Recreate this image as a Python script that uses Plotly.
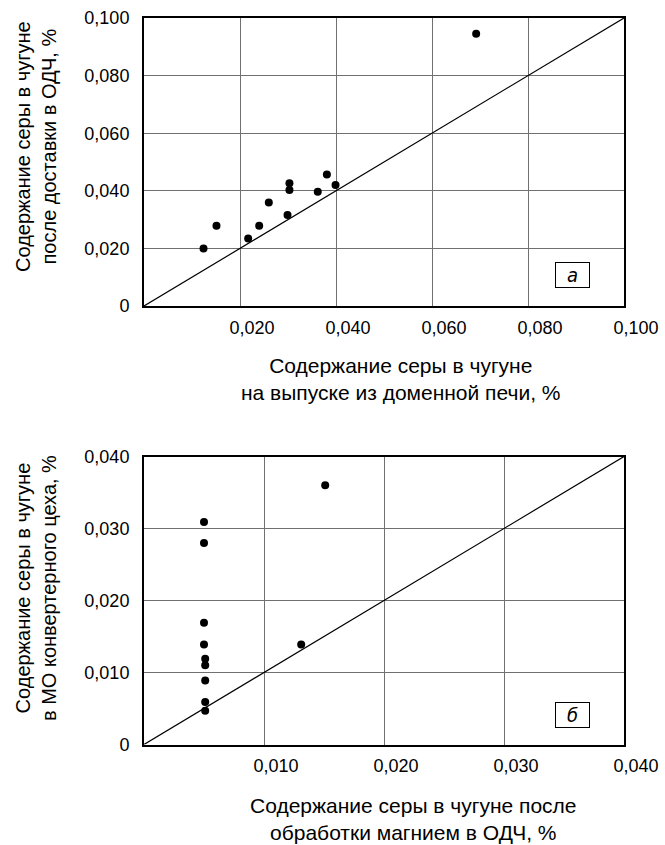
import plotly.graph_objects as go

# --- data: panel а ---
a_x = [0.0124, 0.0151, 0.0217, 0.0240, 0.0260, 0.0299, 0.0303, 0.0303, 0.0362, 0.0381, 0.0399, 0.0692]
a_y = [0.0200, 0.0279, 0.0234, 0.0279, 0.0359, 0.0316, 0.0403, 0.0426, 0.0397, 0.0457, 0.0420, 0.0945]
# --- data: panel б ---
b_x = [0.0050, 0.0050, 0.0050, 0.0050, 0.0051, 0.0051, 0.0051, 0.0051, 0.0051, 0.0131, 0.0151]
b_y = [0.0309, 0.0280, 0.0169, 0.0139, 0.0119, 0.0110, 0.0089, 0.0059, 0.0047, 0.0139, 0.0360]

a_ticks = [0, 0.02, 0.04, 0.06, 0.08, 0.10]
a_ticktext = ["0", "0,020", "0,040", "0,060", "0,080", "0,100"]
b_ticks = [0, 0.01, 0.02, 0.03, 0.04]
b_ticktext = ["0", "0,010", "0,020", "0,030", "0,040"]

a_range = [0, 0.10]
b_range = [0, 0.04]

W, H = 665, 845
FONT = "Liberation Sans, Arial, sans-serif"

fig = go.Figure()
# diagonal lines y = x
fig.add_trace(go.Scatter(x=a_range, y=a_range, mode="lines", line=dict(color="black", width=1.2),
                         xaxis="x", yaxis="y", hoverinfo="skip"))
fig.add_trace(go.Scatter(x=a_x, y=a_y, mode="markers", marker=dict(color="black", size=8),
                         xaxis="x", yaxis="y"))
fig.add_trace(go.Scatter(x=b_range, y=b_range, mode="lines", line=dict(color="black", width=1.2),
                         xaxis="x2", yaxis="y2", hoverinfo="skip"))
fig.add_trace(go.Scatter(x=b_x, y=b_y, mode="markers", marker=dict(color="black", size=8),
                         xaxis="x2", yaxis="y2"))

x0, x1 = 144 / W, 624 / W
ya = [1 - 306 / H, 1 - 18 / H]
yb = [1 - 744.5 / H, 1 - 456.5 / H]

common = dict(showline=True, mirror=True, linecolor="black", linewidth=2,
              showgrid=True, gridcolor="#707070", gridwidth=1, zeroline=False,
              automargin=False,
              ticks="", tickfont=dict(family=FONT, size=18, color="black"))

fig.update_layout(
    width=W, height=H, margin=dict(l=0, r=0, t=0, b=0, autoexpand=False),
    paper_bgcolor="white", plot_bgcolor="white", showlegend=False,
    xaxis=dict(domain=[x0, x1], range=a_range, anchor="y",
               tickvals=a_ticks[1:], ticktext=a_ticktext[1:],
               ticklabelstandoff=4, ticklabelshift=12, **common),
    yaxis=dict(domain=ya, range=a_range, anchor="x",
               tickvals=a_ticks, ticktext=a_ticktext, ticklabelstandoff=9, **common),
    xaxis2=dict(domain=[x0, x1], range=b_range, anchor="y2",
                tickvals=b_ticks[1:], ticktext=b_ticktext[1:],
                ticklabelstandoff=4, ticklabelshift=12, **common),
    yaxis2=dict(domain=yb, range=b_range, anchor="x2",
                tickvals=b_ticks, ticktext=b_ticktext, ticklabelstandoff=9, **common),
)

xfont = dict(family=FONT, size=21, color="black")
yfont = dict(family=FONT, size=20, color="black")
ctr = dict(showarrow=False, align="center", xanchor="center", yanchor="middle")
# axis titles
fig.add_annotation(xref="paper", yref="paper", x=400 / W, y=1 - 379 / H,
                   text="Содержание серы в чугуне<br>на выпуске из доменной печи, %",
                   font=xfont, **ctr)
fig.add_annotation(xref="paper", yref="paper", x=413 / W, y=1 - 819 / H,
                   text="Содержание серы в чугуне после<br>обработки магнием в ОДЧ, %",
                   font=xfont, **ctr)
fig.add_annotation(xref="paper", yref="paper", x=36 / W, y=1 - 147 / H,
                   text="Содержание серы в чугуне<br>после доставки в ОДЧ, %",
                   font=yfont, textangle=-90, **ctr)
fig.add_annotation(xref="paper", yref="paper", x=36 / W, y=1 - 588 / H,
                   text="Содержание серы в чугуне<br>в МО конвертерного цеха, %",
                   font=yfont, textangle=-90, **ctr)

# panel labels
lfont = dict(family="DejaVu Sans Condensed, DejaVu Sans, sans-serif", size=20, color="black")
fig.add_annotation(xref="x", yref="y", x=0.0892, y=0.0106, text="<i>а</i>",
                   font=lfont, bordercolor="black", borderwidth=1, bgcolor="white",
                   width=33, height=24, borderpad=0, **ctr)
fig.add_annotation(xref="x2", yref="y2", x=0.0357, y=0.0041, text="<i>б</i>",
                   font=lfont, bordercolor="black", borderwidth=1, bgcolor="white",
                   width=33, height=24, borderpad=0, **ctr)

fig.write_html("out.html", config={"displayModeBar": False},
               post_script="document.body.style.margin='0';")
